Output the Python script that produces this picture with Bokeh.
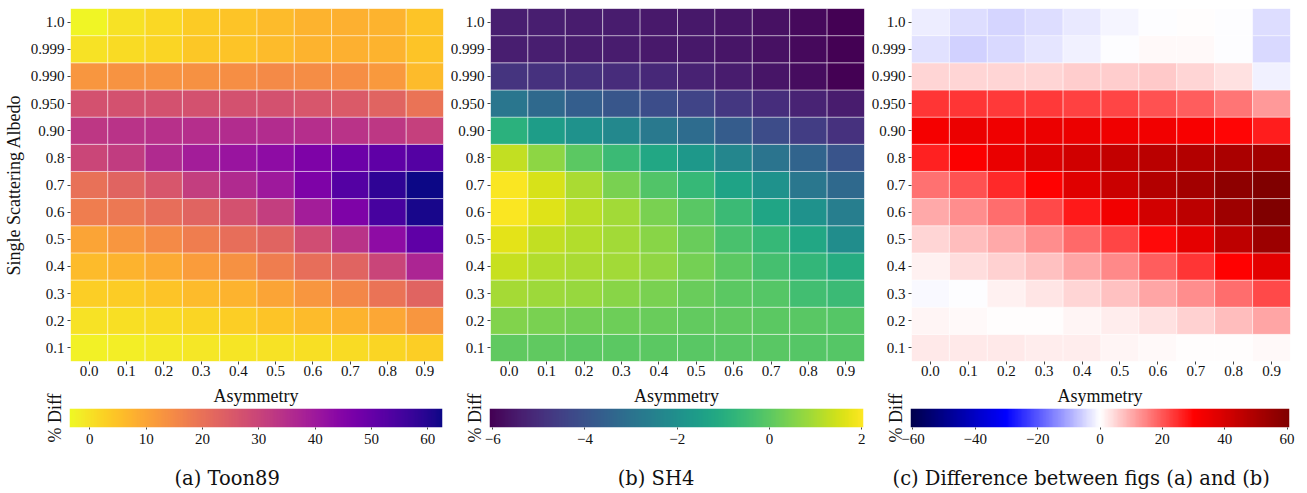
import numpy as np
from bokeh.plotting import figure
from bokeh.models import (FactorRange, Range1d, LinearColorMapper, LinearAxis,
                          FixedTicker, ColumnDataSource)
from bokeh.layouts import column, row
from bokeh.palettes import Plasma256, Viridis256
from bokeh.embed import file_html
from bokeh.resources import INLINE
from bokeh.core.properties import value

# ---------------- data ----------------
asymmetry = ["0.0", "0.1", "0.2", "0.3", "0.4", "0.5", "0.6", "0.7", "0.8", "0.9"]
albedo = ["0.1", "0.2", "0.3", "0.4", "0.5", "0.6", "0.7", "0.8",
          "0.90", "0.950", "0.990", "0.999", "1.0"]

# (a) Toon89 % diff, one list per albedo row (columns = asymmetry)
toon89 = {
    "1.0":   [-3.0, 0.0, 1.5, 3.5, 4.5, 6.0, 7.5, 8.0, 7.5, 4.5],
    "0.999": [0.0, 1.0, 2.0, 4.0, 4.5, 6.0, 7.5, 8.0, 7.5, 4.5],
    "0.990": [12.5, 13.0, 13.0, 13.5, 14.0, 15.0, 14.5, 14.0, 12.0, 6.0],
    "0.950": [27.0, 27.0, 27.0, 27.0, 27.0, 27.0, 26.0, 25.0, 23.0, 19.5],
    "0.90":  [33.0, 34.0, 34.5, 35.0, 35.5, 35.5, 35.0, 34.0, 33.0, 31.0],
    "0.8":   [29.5, 32.0, 36.0, 39.0, 41.0, 43.0, 46.0, 49.0, 51.0, 53.0],
    "0.7":   [20.0, 23.0, 26.0, 31.5, 36.0, 40.0, 46.0, 53.0, 58.5, 62.5],
    "0.6":   [17.5, 18.5, 20.5, 23.0, 27.0, 31.5, 39.0, 46.0, 55.0, 61.5],
    "0.5":   [10.0, 12.5, 15.0, 17.5, 20.5, 23.0, 28.0, 34.0, 43.0, 51.0],
    "0.4":   [6.0, 7.5, 9.0, 11.5, 13.5, 17.5, 20.5, 23.0, 30.0, 37.0],
    "0.3":   [3.0, 3.2, 4.5, 6.0, 7.5, 10.0, 12.5, 15.5, 19.5, 23.0],
    "0.2":   [0.0, 0.3, 1.0, 2.0, 3.0, 4.5, 6.0, 7.5, 9.5, 12.5],
    "0.1":   [-2.5, -2.0, -1.5, -1.0, -0.5, 0.0, 0.5, 1.0, 2.0, 3.0],
}

# (b) SH4 % diff
sh4 = {
    "1.0":   [-5.4, -5.4, -5.45, -5.45, -5.5, -5.55, -5.6, -5.7, -5.85, -6.05],
    "0.999": [-5.4, -5.4, -5.45, -5.45, -5.5, -5.55, -5.6, -5.7, -5.85, -6.05],
    "0.990": [-4.85, -4.9, -4.95, -5.05, -5.15, -5.3, -5.45, -5.6, -5.8, -6.05],
    "0.950": [-2.9, -3.3, -3.65, -3.9, -4.15, -4.4, -4.75, -5.0, -5.25, -5.45],
    "0.90":  [-0.9, -1.55, -1.95, -2.3, -2.8, -3.2, -3.7, -4.2, -4.6, -4.9],
    "0.8":   [1.3, 0.65, 0.0, -0.55, -1.2, -1.75, -2.35, -2.95, -3.45, -3.95],
    "0.7":   [2.0, 1.55, 1.0, 0.42, -0.15, -0.65, -1.35, -1.95, -2.85, -3.3],
    "0.6":   [2.0, 1.65, 1.2, 0.9, 0.42, -0.05, -0.55, -1.3, -1.95, -2.6],
    "0.5":   [1.7, 1.3, 1.1, 0.9, 0.6, 0.2, -0.3, -0.65, -1.2, -2.1],
    "0.4":   [1.35, 1.1, 1.0, 0.9, 0.7, 0.35, 0.0, -0.35, -0.7, -1.05],
    "0.3":   [0.95, 0.85, 0.8, 0.6, 0.42, 0.2, 0.0, -0.1, -0.4, -0.55],
    "0.2":   [0.5, 0.4, 0.3, 0.25, 0.2, 0.1, 0.05, 0.0, -0.05, -0.1],
    "0.1":   [0.05, 0.05, 0.0, 0.0, 0.0, -0.05, -0.05, -0.05, -0.1, -0.1],
}

# (c) difference between (a) and (b)
difference = {
    "1.0":   [-2.0, -4.0, -5.2, -4.2, -2.8, -1.4, -0.3, 0.3, -0.2, -4.2],
    "0.999": [-3.5, -5.3, -4.7, -3.3, -1.8, -0.1, 0.5, 0.8, -0.1, -4.5],
    "0.990": [4.9, 4.9, 5.0, 5.2, 6.1, 6.0, 6.6, 5.2, 3.4, -1.5],
    "0.950": [24.0, 23.8, 23.6, 23.4, 22.8, 22.2, 20.6, 19.2, 16.6, 12.3],
    "0.90":  [32.5, 34.7, 34.0, 35.0, 35.0, 34.0, 33.4, 32.0, 29.5, 26.8],
    "0.8":   [26.5, 31.0, 35.5, 38.9, 41.8, 44.2, 46.8, 48.0, 50.4, 52.3],
    "0.7":   [17.0, 20.9, 25.6, 30.4, 38.0, 42.8, 48.2, 52.0, 57.2, 60.8],
    "0.6":   [10.4, 13.7, 17.5, 21.4, 27.1, 33.4, 41.2, 46.5, 53.6, 60.6],
    "0.5":   [5.1, 8.0, 10.4, 13.7, 18.0, 22.2, 29.0, 36.5, 45.6, 54.0],
    "0.4":   [1.5, 4.2, 5.6, 7.6, 10.8, 14.2, 19.4, 24.2, 30.0, 37.0],
    "0.3":   [-0.9, 0.0, 1.5, 3.2, 5.1, 7.6, 10.8, 13.7, 17.5, 21.6],
    "0.2":   [1.3, 0.6, 0.2, 0.2, 1.1, 2.1, 3.8, 5.4, 7.8, 10.6],
    "0.1":   [2.5, 2.5, 2.5, 2.3, 2.1, 1.3, 0.8, 0.4, 0.4, 0.8],
}

cbar_ranges = [(-3.6, 62.6), (-6.07, 2.04), (-60.8, 60.8)]
cbar_ticks = [[0, 10, 20, 30, 40, 50, 60], [-6, -4, -2, 0, 2], [-60, -40, -20, 0, 20, 40, 60]]
captions = ["(a) Toon89", "(b) SH4", "(c) Difference between figs (a) and (b)"]

# ---------------- style ----------------
FONT = "Liberation Serif"
TXT = "#111111"


def seismic_palette(n=256):
    anchors = [(0, 0, 0.3), (0, 0, 1), (1, 1, 1), (1, 0, 0), (0.5, 0, 0)]
    out = []
    for i in range(n):
        t = i / (n - 1) * 4
        k = min(int(t), 3)
        f = t - k
        c = [anchors[k][j] + (anchors[k + 1][j] - anchors[k][j]) * f for j in range(3)]
        out.append("#%02x%02x%02x" % tuple(int(round(v * 255)) for v in c))
    return out


palettes = [list(Plasma256)[::-1], list(Viridis256), seismic_palette()]
mappers = [LinearColorMapper(palette=pal, low=lo, high=hi)
           for pal, (lo, hi) in zip(palettes, cbar_ranges)]


def style_axis(ax, tick_out=3, label_size="15px"):
    ax.major_label_text_font = FONT
    ax.major_label_text_font_size = label_size
    ax.major_label_text_color = TXT
    ax.axis_label_text_font = FONT
    ax.axis_label_text_font_size = "18px"
    ax.axis_label_text_font_style = "normal"
    ax.axis_label_text_color = TXT
    ax.axis_line_color = None
    ax.major_tick_line_color = "#444444"
    ax.major_tick_in = 0
    ax.major_tick_out = tick_out
    ax.minor_tick_line_color = None


frame_w = [373, 374, 379]
left_b = [69, 43, 44]
right_b = [4, 3, 10]
HEAT_H = 353

heat_figs, cbar_figs = [], []
for k, data in enumerate([toon89, sh4, difference]):
    xs, ys, vs = [], [], []
    for alb in albedo:
        for j, g in enumerate(asymmetry):
            xs.append(g)
            ys.append(alb)
            vs.append(data[alb][j])
    src = ColumnDataSource(dict(x=xs, y=ys, v=vs))

    p = figure(x_range=FactorRange(*asymmetry), y_range=FactorRange(*albedo),
               frame_width=frame_w[k], frame_height=HEAT_H,
               min_border_left=left_b[k], min_border_right=right_b[k],
               min_border_top=8, min_border_bottom=21,
               output_backend="svg", toolbar_location=None)
    p.outline_line_color = None
    p.grid.visible = False
    p.rect(x="x", y="y", width=1, height=1, source=src,
           fill_color={"field": "v", "transform": mappers[k]},
           line_color="white", line_alpha=0.45, line_width=1)
    for ax in p.xaxis:
        style_axis(ax)
        ax.major_label_standoff = 1
    for ax in p.yaxis:
        style_axis(ax)
        ax.major_label_standoff = 3
        ax.axis_label_standoff = 4
    if k == 0:
        p.yaxis.axis_label = "Single Scattering Albedo"
    heat_figs.append(p)

    lo, hi = cbar_ranges[k]
    c = figure(x_range=Range1d(lo, hi), y_range=Range1d(0, 1),
               frame_width=frame_w[k], frame_height=19,
               min_border_left=left_b[k], min_border_right=right_b[k],
               min_border_top=25, min_border_bottom=25,
               output_backend="svg", toolbar_location=None)
    c.outline_line_color = None
    c.grid.visible = False
    grad = np.linspace(lo, hi, 600).reshape(1, -1)
    c.image(image=[grad], x=lo, y=0, dw=hi - lo, dh=1, color_mapper=mappers[k])
    for ax in c.xaxis:
        style_axis(ax, tick_out=2)
        ax.ticker = FixedTicker(ticks=cbar_ticks[k])
        ax.major_label_standoff = 4
        ax.major_label_overrides = {t: (str(t).replace("-", "\u2212")) for t in cbar_ticks[k]}
    for ax in c.yaxis:
        style_axis(ax, tick_out=0)
        ax.ticker = FixedTicker(ticks=[])
        ax.major_label_standoff = 0
        ax.axis_label = "% Diff"
        ax.axis_label_standoff = 5
    top = LinearAxis(ticker=FixedTicker(ticks=[]), axis_label="Asymmetry")
    style_axis(top, tick_out=0)
    top.major_label_standoff = 0
    top.axis_label_standoff = 3
    c.add_layout(top, "above")
    cbar_figs.append(c)

total_w = sum(frame_w) + sum(left_b) + sum(right_b)
CAP_H = 40
cap = figure(width=total_w, height=CAP_H, x_range=Range1d(0, total_w), y_range=Range1d(0, CAP_H),
             x_axis_type=None, y_axis_type=None, min_border=0,
             output_backend="svg", toolbar_location=None)
cap.outline_line_color = None
cap.grid.visible = False
cap_src = ColumnDataSource(dict(x=[226.7, 655.5, 1080.7], y=[14, 14, 14], t=captions))
cap.text(x="x", y="y", text="t", source=cap_src, text_font=value("DejaVu Serif"),
         text_font_size="19.5px", text_align="center", text_baseline="middle",
         text_color=TXT)

layout = column(row(*heat_figs), row(*cbar_figs), cap)

with open("out.html", "w") as f:
    f.write(file_html(layout, INLINE))
